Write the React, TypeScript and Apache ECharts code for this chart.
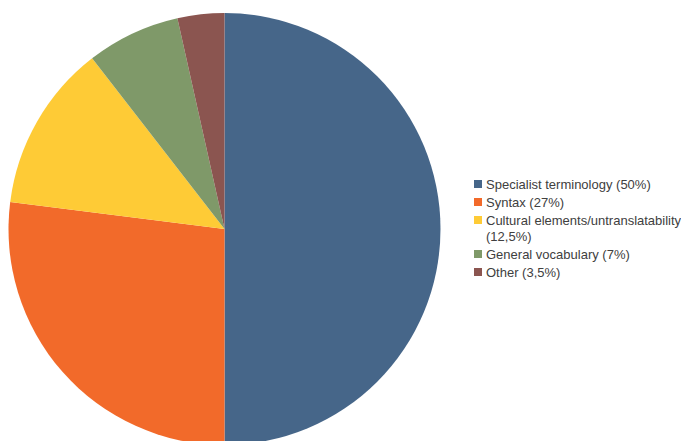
import React, { useEffect, useRef } from "react";
import * as echarts from "echarts";

const categories = [
  "Specialist terminology",
  "Syntax",
  "Cultural elements/untranslatability",
  "General vocabulary",
  "Other",
];
const values = [50, 27, 12.5, 7, 3.5];
const legendLabels = [
  ["Specialist terminology (50%)"],
  ["Syntax (27%)"],
  ["Cultural elements/untranslatability", "(12,5%)"],
  ["General vocabulary (7%)"],
  ["Other (3,5%)"],
];
const colors = ["#466689", "#f26a2a", "#fecb36", "#7f9969", "#8b5550"];

export default function App() {
  const ref = useRef<HTMLDivElement>(null);
  useEffect(() => {
    if (!ref.current) return;
    const chart = echarts.init(ref.current, undefined, { renderer: "svg" });
    const graphics: any[] = [];
    let y = 184;
    legendLabels.forEach((lines, i) => {
      graphics.push({
        type: "rect",
        left: 474,
        top: y - 4,
        shape: { width: 8, height: 8 },
        style: { fill: colors[i] },
      });
      lines.forEach((ln, j) => {
        graphics.push({
          type: "text",
          x: 486,
          y: y + j * 16,
          style: {
            text: ln,
            fill: "#404040",
            font: "13px 'Liberation Sans', Arial, sans-serif",
            textVerticalAlign: "middle",
          },
        });
      });
      y += 18 + (lines.length - 1) * 16;
    });
    chart.setOption({
      animation: false,
      color: colors,
      graphic: graphics,
      series: [
        {
          type: "pie",
          center: [224.5, 229],
          radius: 216,
          startAngle: 90,
          clockwise: true,
          label: { show: false },
          labelLine: { show: false },
          itemStyle: { borderWidth: 0 },
          emphasis: { disabled: true },
          data: categories.map((c, i) => ({ name: c, value: values[i] })),
        },
      ],
    });
    return () => chart.dispose();
  }, []);
  return (
    <div
      ref={ref}
      style={{ width: 681, height: 441, position: "absolute", left: 0, top: 0 }}
    />
  );
}
